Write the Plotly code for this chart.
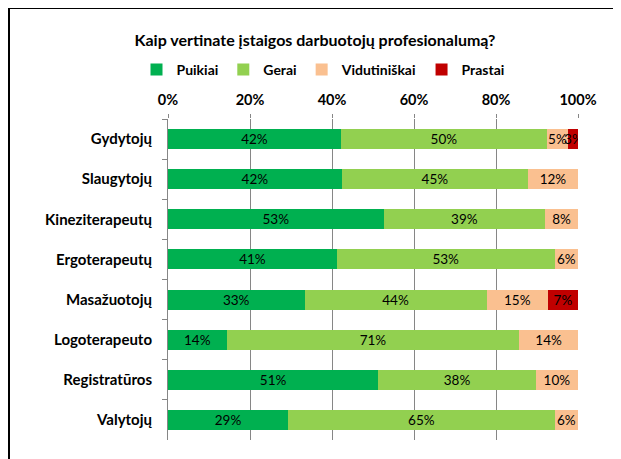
import plotly.graph_objects as go

# Kategorijos (darbuotojai)
kategorijos = [
    "Gydytojų", "Slaugytojų", "Kineziterapeutų", "Ergoterapeutų",
    "Masažuotojų", "Logoterapeuto", "Registratūros", "Valytojų"
]

# Vertinimai, %
puikiai = [42.2, 42.4, 52.6, 41.2, 33.3, 14.3, 51.3, 29.3]
gerai = [50.2, 45.4, 39.4, 53.1, 44.4, 71.4, 38.4, 65.0]
vidutiniskai = [5.2, 12.2, 8.0, 5.7, 15.0, 14.3, 10.3, 5.7]
prastai = [2.6, 0, 0, 0, 7.3, 0, 0, 0]

serijos = [
    ("Puikiai", puikiai, "#00B050"),
    ("Gerai", gerai, "#92D050"),
    ("Vidutiniškai", vidutiniskai, "#FAC090"),
    ("Prastai", prastai, "#C00000"),
]

x_ticks = [0, 20, 40, 60, 80, 100]

fontas = "Lato"

# puslapio body turi 8px parastę, todėl viską pastumiam
W, H = 613, 451
kaire, desine, virsus, apacia = 160, 43, 111, 19
plotis = W - kaire - desine
aukstis = H - virsus - apacia

fig = go.Figure()

for pavadinimas, reiksmes, spalva in serijos:
    tekstai = [f"{v:.0f}%" if v > 0 else "" for v in reiksmes]
    fig.add_trace(
        go.Bar(
            name=pavadinimas,
            y=kategorijos,
            x=reiksmes,
            orientation="h",
            marker=dict(color=spalva, line=dict(width=0)),
            text=tekstai,
            texttemplate="%{text}",
            textposition="inside",
            insidetextanchor="middle",
            constraintext="none",
            textangle=0,
            textfont=dict(family=fontas, size=13.5, color="black"),
            width=0.5,
            hoverinfo="x+y+name"
        )
    )

fig.update_layout(
    barmode="stack",
    width=W,
    height=H,
    margin=dict(l=kaire, r=desine, t=virsus, b=apacia),
    paper_bgcolor="white",
    plot_bgcolor="white",
    font=dict(family=fontas, color="black"),
    title=dict(
        text="<b>Kaip vertinate įstaigos darbuotojų profesionalumą?</b>",
        x=(315 - 8) / W,
        xanchor="center",
        y=1 - 32 / H,
        yanchor="middle",
        font=dict(family=fontas, size=16, color="black")
    ),
    legend=dict(
        orientation="h",
        x=(323 - 168) / plotis,
        xanchor="center",
        y=1 + (111 - 62) / aukstis,
        yanchor="middle",
        font=dict(family=fontas, size=14, color="black", weight="bold"),
        itemwidth=30,
        traceorder="normal"
    ),
    xaxis=dict(
        side="top",
        range=[0, 100],
        tickvals=x_ticks,
        ticktext=[f"{t}%" for t in x_ticks],
        tickfont=dict(family=fontas, size=14.5, weight="bold"),
        ticklabelstandoff=3,
        showgrid=True,
        gridcolor="#868686",
        gridwidth=1,
        ticks="outside",
        ticklen=4,
        tickcolor="#868686",
        showline=False,
        zeroline=False,
        fixedrange=True
    ),
    yaxis=dict(
        autorange="reversed",
        tickfont=dict(family=fontas, size=15, weight="bold"),
        ticklabelstandoff=12,
        showline=True,
        linecolor="#868686",
        linewidth=1,
        ticks="outside",
        ticklen=5,
        tickcolor="#868686",
        tickson="boundaries",
        showgrid=False,
        fixedrange=True
    ),
    shapes=[
        dict(
            type="rect",
            xref="paper",
            yref="paper",
            x0=(1 - kaire) / plotis,
            x1=(607 - kaire) / plotis,
            y0=-0.2,
            y1=1 + (virsus - 0) / aukstis,
            line=dict(color="black", width=2),
            fillcolor="rgba(0,0,0,0)",
            layer="below"
        )
    ]
)

fig.write_html("out.html")
